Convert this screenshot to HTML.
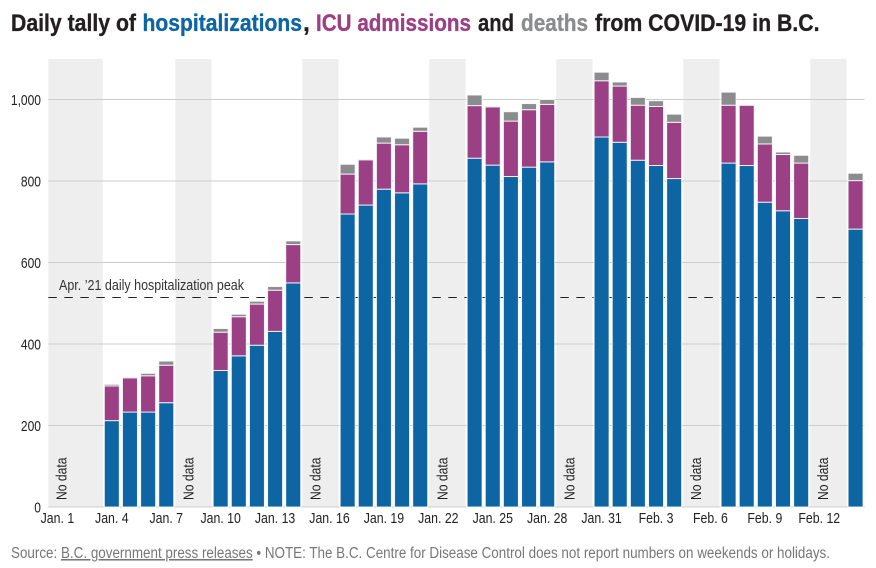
<!DOCTYPE html>
<html lang="en">
<head>
<meta charset="utf-8">
<title>Daily tally of hospitalizations, ICU admissions and deaths from COVID-19 in B.C.</title>
<style>
html,body{margin:0;padding:0;background:#fff;}
svg{display:block;}
text{font-family:"Liberation Sans",sans-serif;}
.t{font-size:24.5px;font-weight:700;stroke-width:.35px;}
</style>
</head>
<body>
<svg id="chart" width="876" height="568" viewBox="0 0 876 568" xmlns="http://www.w3.org/2000/svg">
  <g>
    <text class="t" x="11" y="31" fill="#231f20" stroke="#231f20" textLength="125" lengthAdjust="spacingAndGlyphs">Daily tally of</text>
    <text class="t" x="142.5" y="31" fill="#0d66a3" stroke="#0d66a3" textLength="159.5" lengthAdjust="spacingAndGlyphs">hospitalizations</text>
    <text class="t" x="303" y="31" fill="#231f20" stroke="#231f20">,</text>
    <text class="t" x="316" y="31" fill="#9b4085" stroke="#9b4085" textLength="155" lengthAdjust="spacingAndGlyphs">ICU admissions</text>
    <text class="t" x="478" y="31" fill="#231f20" stroke="#231f20" textLength="36" lengthAdjust="spacingAndGlyphs">and</text>
    <text class="t" x="521" y="31" fill="#8b8c8e" stroke="#8b8c8e" textLength="67" lengthAdjust="spacingAndGlyphs">deaths</text>
    <text class="t" x="595" y="31" fill="#231f20" stroke="#231f20" textLength="224.5" lengthAdjust="spacingAndGlyphs">from COVID-19 in B.C.</text>
  </g>
  <g id="bands"></g>
  <g id="grid"></g>
  <line id="peak" stroke="#222" stroke-width="1" stroke-dasharray="8.5 7.5"></line>
  <g id="bars"></g>
  <g id="yticks"></g>
  <g id="xticks"></g>
  <g id="nodata"></g>
  <text x="59" y="290" font-size="14.5" fill="#333" textLength="185" lengthAdjust="spacingAndGlyphs">Apr. ’21 daily hospitalization peak</text>
  <text x="11" y="558" font-size="15.5" fill="#777" textLength="819" lengthAdjust="spacingAndGlyphs">Source: <tspan text-decoration="underline">B.C. government press releases</tspan> • NOTE: The B.C. Centre for Disease Control does not report numbers on weekends or holidays.</text>
</svg>
<script>
var dayLabels = ["Jan. 1","Jan. 2","Jan. 3","Jan. 4","Jan. 5","Jan. 6","Jan. 7","Jan. 8","Jan. 9","Jan. 10","Jan. 11","Jan. 12","Jan. 13","Jan. 14","Jan. 15","Jan. 16","Jan. 17","Jan. 18","Jan. 19","Jan. 20","Jan. 21","Jan. 22","Jan. 23","Jan. 24","Jan. 25","Jan. 26","Jan. 27","Jan. 28","Jan. 29","Jan. 30","Jan. 31","Feb. 1","Feb. 2","Feb. 3","Feb. 4","Feb. 5","Feb. 6","Feb. 7","Feb. 8","Feb. 9","Feb. 10","Feb. 11","Feb. 12","Feb. 13","Feb. 14"];
var hospitalizations = [null,null,null,212,233,233,256,null,null,335,371,397,431,550,null,null,719,741,780,771,793,null,null,856,839,811,834,847,null,null,908,895,851,838,806,null,null,844,838,748,727,708,null,null,682];
var icuAdmissions = [null,null,null,85,84,89,92,null,null,94,96,101,101,94,null,null,98,111,113,118,129,null,null,129,143,136,141,141,null,null,138,138,135,145,138,null,null,142,148,143,138,136,null,null,119];
var deaths = [null,null,null,4,2,6,10,null,null,9,6,7,9,9,null,null,24,2,15,16,10,null,null,26,2,23,15,12,null,null,21,10,19,14,20,null,null,32,1,19,6,19,null,null,18];
var yTickValues = [0,200,400,600,800,1000];
var yTickLabels = ["0","200","400","600","800","1,000"];
var xTickEvery = 3;
var peakValue = 515;
var noDataRuns = [[0,2],[7,8],[14,15],[21,22],[28,29],[35,36],[42,43]];
var noDataText = "No data";

var NS = "http://www.w3.org/2000/svg";
function xScale(i){ return 57.4 + 18.14 * i; }
function yScale(v){ return 507 - v * 0.4075; }
function make(tag, parent, attrs){
  var el = document.createElementNS(NS, tag);
  for (var k in attrs) el.setAttribute(k, attrs[k]);
  parent.appendChild(el);
  return el;
}
var bandsG = document.getElementById("bands");
var gridG = document.getElementById("grid");
var barsG = document.getElementById("bars");
var yG = document.getElementById("yticks");
var xG = document.getElementById("xticks");
var ndG = document.getElementById("nodata");
var peak = document.getElementById("peak");

noDataRuns.forEach(function(run){
  var left = xScale(run[0] - 0.5), right = xScale(run[1] + 0.5);
  var band = make("rect", bandsG, {x:left, y:59, width:right-left, height:448, fill:"#eeeeee"});
  
  
  var px = left + 18;
  var t = make("text", ndG, {x:px, y:500, "font-size":14.5, fill:"#222", textLength:42.5, lengthAdjust:"spacingAndGlyphs", transform:"rotate(-90 "+px+" 500)"});
  
  
  t.textContent = noDataText;
});

var plotLeft = xScale(-0.5), plotRight = xScale(dayLabels.length - 0.5);
yTickValues.forEach(function(v, i){
  var line = make("line", gridG, {x1:plotLeft, x2:plotRight, y1:yScale(v), y2:yScale(v), stroke:"#cccccc", "stroke-width":1});
  
  
  var t = make("text", yG, {"font-size":14.5, fill:"#222", "text-anchor":"end", transform:"translate(41 "+(yScale(v)+5.5)+") scale(0.83 1)"});
  
  
  t.textContent = yTickLabels[i];
});

var peakY = Math.floor(yScale(peakValue)) + 0.5;
peak.setAttribute("x1", plotLeft);
peak.setAttribute("x2", plotRight);
peak.setAttribute("y1", peakY);
peak.setAttribute("y2", peakY);

dayLabels.forEach(function(lbl, i){
  if (i % xTickEvery === 0) {
    var t = make("text", xG, {"font-size":14.5, fill:"#222", "text-anchor":"middle", transform:"translate("+xScale(i)+" 523) scale(0.85 1)"});
    
    
    t.textContent = lbl;
  }
  if (hospitalizations[i] === null) return;
  var base = 0;
  [[hospitalizations[i],"#0d66a3"],[icuAdmissions[i],"#9b4085"],[deaths[i],"#8b8c8e"]].forEach(function(seg){
    var y0 = yScale(base), y1 = yScale(base + seg[0]);
    var r = make("rect", barsG, {x:xScale(i)-7.5, y:y1, width:15, height:Math.max(0, y0-y1), fill:seg[1], stroke:"#fff", "stroke-width":1, "stroke-opacity":0.85});
    
    
    base += seg[0];
  });
});
</script>
</body>
</html>
